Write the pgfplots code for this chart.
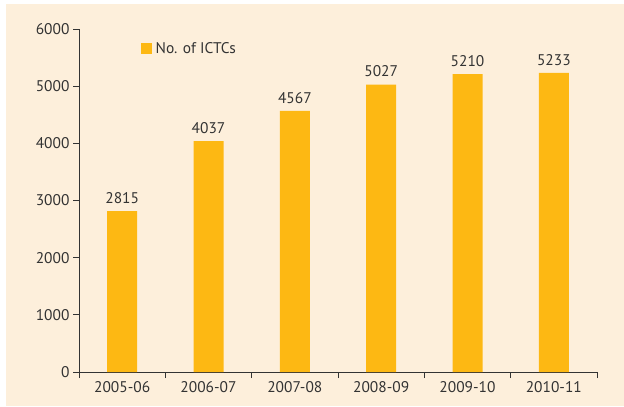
\documentclass[border=0pt]{standalone}
\usepackage{pgfplots}
\pgfplotsset{compat=1.18}
\usepackage{fontspec}
\setmainfont{PT Sans}
\definecolor{bg}{HTML}{FDEFDB}
\definecolor{bar}{HTML}{FDB813}
\definecolor{ink}{HTML}{333333}
\begin{document}
\begin{tikzpicture}[x=1bp,y=1bp]
\useasboundingbox (0,0) rectangle (624,406);
\fill[bg] (6,0) rectangle (624,402);
\begin{axis}[
  at={(79bp,34bp)}, anchor=south west,
  scale only axis,
  width=518bp, height=343bp,
  ymin=0, ymax=6000,
  xmin=-0.5, xmax=5.5,
  axis x line=bottom, axis y line=left,
  axis line style={-, ink, line width=0.9pt},
  ytick={0,1000,...,6000},
  xtick={-0.5,0.5,...,5.5},
  x tick label as interval,
  xticklabels={2005-06,2006-07,2007-08,2008-09,2009-10,2010-11},
  tick align=outside,
  major tick length=6bp,
  tick style={ink, line width=0.9pt},
  ticklabel style={font=\fontsize{15.5}{18}\selectfont, text=ink},
  /pgf/number format/assume math mode=true,
  /pgf/number format/1000 sep={},
  ybar, bar width=30bp,
  nodes near coords,
  every node near coord/.append style={font=\fontsize{15.5}{18}\selectfont, text=ink, yshift=4bp},
  legend style={at={(rel axis cs:0.113,0.942)}, anchor=west, draw=none, fill=none,
    font=\fontsize{15.5}{18}\selectfont, text=ink},
  legend image code/.code={\fill[bar] (0bp,-5.5bp) rectangle (11bp,5.5bp); \path (13bp,0bp);},
]
\addplot[fill=bar, draw=none] coordinates {
  (0,2815) (1,4037) (2,4567) (3,5027) (4,5210) (5,5233)
};
\addlegendentry{No. of ICTCs}
\end{axis}
\end{tikzpicture}
\end{document}
